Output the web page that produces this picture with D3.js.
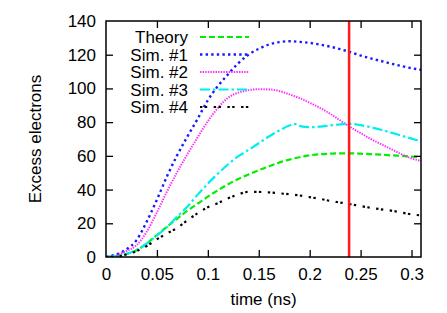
<!DOCTYPE html>
<html>
<head>
<meta charset="utf-8">
<script src="https://cdn.jsdelivr.net/npm/d3@7"></script>
<style>
  html, body { margin: 0; padding: 0; background: #fff; }
  svg text { font-family: "Liberation Sans", Arial, sans-serif; fill: #000; }
</style>
</head>
<body>
<div id="chart"></div>
<script>
// time grid (ns)
var times = [0, 0.01, 0.02, 0.03, 0.04, 0.05, 0.06, 0.07, 0.08, 0.09, 0.10,
  0.11, 0.12, 0.13, 0.14, 0.15, 0.16, 0.17, 0.18, 0.19, 0.20,
  0.21, 0.22, 0.23, 0.24, 0.25, 0.26, 0.27, 0.28, 0.29, 0.30, 0.31];

var theory = [0, 0.5, 1.8, 4, 8, 13, 18, 22.8, 27.5, 31.6, 35.8,
  39.6, 43.2, 46.3, 49, 51.5, 53.8, 56, 57.8, 59.2, 60.3,
  61, 61.3, 61.5, 61.5, 61.3, 61, 60.7, 60.3, 60, 59.6, 59.2];

var sim1 = [0, 1.5, 4.5, 10, 21, 34, 48, 60.5, 71.5, 82, 93,
  101.5, 108.5, 115, 120, 123.5, 126, 127.5, 128, 127.6, 127,
  126, 124.8, 123.3, 121.5, 119.5, 117.8, 116.3, 114.7, 113.3, 112, 111];

var sim2 = [0, 1, 3.5, 7, 15, 26.5, 39, 50.5, 61, 71, 80.5,
  88.5, 94.5, 97.5, 99, 99.5, 99.4, 98.5, 96.5, 94.3, 91.5,
  88.5, 85, 81, 77, 73.5, 70, 67, 64, 61, 58.5, 57];

// sim #3 has a kink at 0.185 ns, so it keeps its own time points
var sim3Times = [0, 0.01, 0.02, 0.03, 0.04, 0.05, 0.06, 0.07, 0.08, 0.09, 0.10,
  0.11, 0.12, 0.13, 0.14, 0.15, 0.16, 0.17, 0.18, 0.185, 0.19, 0.20,
  0.21, 0.22, 0.23, 0.24, 0.25, 0.26, 0.27, 0.28, 0.29, 0.30, 0.31];
var sim3 = [0, 0.5, 1.8, 4.3, 8, 12.8, 17.8, 24, 30, 37, 43.5,
  49.5, 55, 59.8, 63.5, 67.5, 71.5, 75, 78, 79, 77.8, 77,
  77.3, 78, 78.7, 79, 78.2, 77, 75.5, 73.8, 72, 70.2, 68.5];

var sim4 = [0, 0.2, 1.5, 3.5, 6.5, 10.5, 14, 17.3, 21.8, 26, 29.5,
  32, 34.8, 37.2, 38.6, 38.6, 38.3, 37.8, 37.2, 36.5, 35.5,
  34.5, 33.3, 32.3, 31.3, 30.2, 29.2, 28.3, 27.5, 26.4, 25.3, 24.6];

var seriesNames = ["Theory", "Sim. #1", "Sim. #2", "Sim. #3", "Sim. #4"];
var xTicks = [0, 0.05, 0.1, 0.15, 0.2, 0.25, 0.3];
var yTicks = [0, 20, 40, 60, 80, 100, 120, 140];
var markerTime = 0.2387; // red vertical line

var width = 447, height = 313;
var margin = { left: 106, right: 26, top: 21, bottom: 56 };
var fontSize = "17px";

var svg = d3.select("#chart").append("svg")
  .attr("width", width)
  .attr("height", height);

var x = d3.scaleLinear().domain([0, 0.3093]).range([margin.left, width - margin.right]);
var y = d3.scaleLinear().domain([0, 140]).range([height - margin.bottom, margin.top]);

svg.append("clipPath").attr("id", "plotclip")
  .append("rect")
  .attr("x", margin.left).attr("y", margin.top)
  .attr("width", width - margin.left - margin.right)
  .attr("height", height - margin.top - margin.bottom);

// styles for each series
var styles = [
  { color: "#00ee00", dash: "6,3", width: 2.2 },
  { color: "#1a1aff", dash: "2.4,3.2", width: 2.4 },
  { color: "#ff2cff", dash: "1.4,1.2", width: 2 },
  { color: "#00eeee", dash: "10,3,2.5,3", width: 2.2 },
  { color: "#000000", dash: "2.4,2.4,2.4,6.5", width: 2.2 }
];

var seriesData = [
  times.map(function (t, i) { return [t, theory[i]]; }),
  times.map(function (t, i) { return [t, sim1[i]]; }),
  times.map(function (t, i) { return [t, sim2[i]]; }),
  sim3Times.map(function (t, i) { return [t, sim3[i]]; }),
  times.map(function (t, i) { return [t, sim4[i]]; })
];

var line = d3.line()
  .x(function (d) { return x(d[0]); })
  .y(function (d) { return y(d[1]); })
  .curve(d3.curveMonotoneX);

var plot = svg.append("g").attr("clip-path", "url(#plotclip)");

seriesData.forEach(function (data, i) {
  plot.append("path")
    .datum(data)
    .attr("d", line)
    .attr("fill", "none")
    .attr("stroke", styles[i].color)
    .attr("stroke-width", styles[i].width)
    .attr("stroke-dasharray", styles[i].dash);
});

// red marker line
plot.append("line")
  .attr("x1", x(markerTime)).attr("x2", x(markerTime))
  .attr("y1", y(140)).attr("y2", y(0))
  .attr("stroke", "#ff1a1a")
  .attr("stroke-width", 2.5);

// legend
var legend = svg.append("g");
seriesNames.forEach(function (name, i) {
  var cy = 37 + i * 17.5;
  legend.append("text")
    .attr("x", 188).attr("y", cy + 6)
    .attr("text-anchor", "end")
    .style("font-size", fontSize)
    .text(name);
  legend.append("line")
    .attr("x1", 200).attr("x2", 249)
    .attr("y1", cy).attr("y2", cy)
    .attr("stroke", styles[i].color)
    .attr("stroke-width", styles[i].width)
    .attr("stroke-dasharray", styles[i].dash);
});

// axes: ticks pointing inwards, mirrored on top and right
var tickLen = 7;
var axes = svg.append("g");

var xBottom = axes.append("g")
  .attr("transform", "translate(0," + y(0) + ")")
  .call(d3.axisBottom(x).tickValues(xTicks).tickSizeInner(-tickLen).tickSizeOuter(0).tickFormat(d3.format("~g")));
var xTop = axes.append("g")
  .attr("transform", "translate(0," + y(140) + ")")
  .call(d3.axisTop(x).tickValues(xTicks).tickSizeInner(-tickLen).tickSizeOuter(0).tickFormat(""));
var yLeft = axes.append("g")
  .attr("transform", "translate(" + x(0) + ",0)")
  .call(d3.axisLeft(y).tickValues(yTicks).tickSizeInner(-tickLen).tickSizeOuter(0));
var yRight = axes.append("g")
  .attr("transform", "translate(" + (width - margin.right) + ",0)")
  .call(d3.axisRight(y).tickValues(yTicks).tickSizeInner(-tickLen).tickSizeOuter(0).tickFormat(""));

axes.selectAll(".domain").remove();
axes.selectAll(".tick line").attr("stroke", "#000").attr("stroke-width", 1.3);
axes.selectAll("text").style("font-size", fontSize).attr("fill", "#000");
xBottom.selectAll("text").attr("y", 11).attr("dy", "0.71em");
yLeft.selectAll("text").attr("x", -10);

// remove ticks at the exact corners (0 and 140) so the frame stays clean
axes.selectAll(".tick line").filter(function (d) { return d === 0 || d === 140; }).remove();

// frame
svg.append("rect")
  .attr("x", margin.left).attr("y", margin.top)
  .attr("width", width - margin.left - margin.right)
  .attr("height", height - margin.top - margin.bottom)
  .attr("fill", "none")
  .attr("stroke", "#000")
  .attr("stroke-width", 1.5);

// axis titles
svg.append("text")
  .attr("x", (margin.left + width - margin.right) / 2)
  .attr("y", 305)
  .attr("text-anchor", "middle")
  .style("font-size", fontSize)
  .text("time (ns)");

svg.append("text")
  .attr("transform", "translate(41,139) rotate(-90)")
  .attr("text-anchor", "middle")
  .style("font-size", fontSize)
  .text("Excess electrons");
</script>
</body>
</html>
